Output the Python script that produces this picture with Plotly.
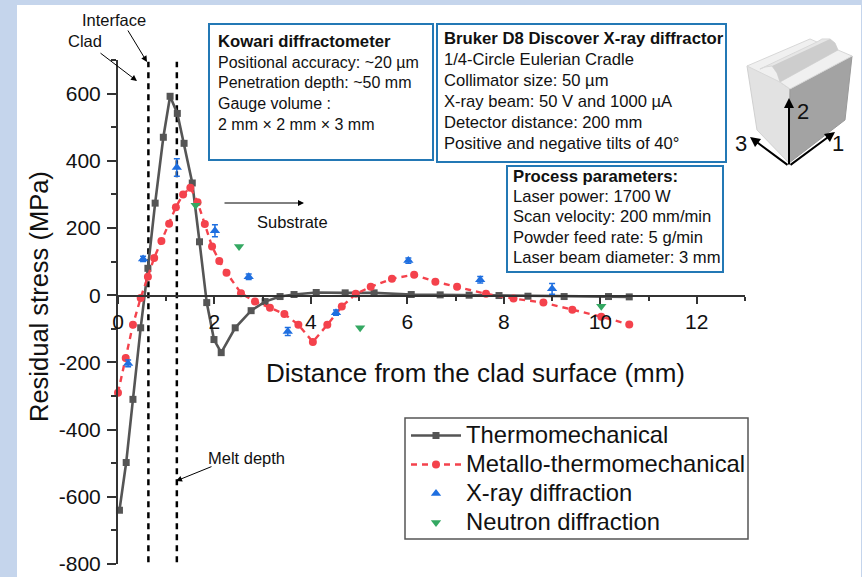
import plotly.graph_objects as go

W, H = 862, 577
L, R, T, B = 118, 745, 60, 564

thermo_x = [0.03, 0.17, 0.31, 0.47, 0.62, 0.77, 0.94, 1.08, 1.23, 1.37, 1.54, 1.69, 1.84, 1.99, 2.14, 2.43, 2.76, 3.05, 3.36, 3.65, 4.11, 4.71, 5.31, 6.08, 6.68, 7.28, 7.9, 8.5, 9.25, 10.17, 10.6]
thermo_y = [-640, -498, -310, -97, 80, 274, 470, 592, 541, 452, 334, 159, -22, -132, -171, -97, -46, -19, -4, 2, 8, 7, 7, 2, 1, 0, -1, -3, -4, -4, -5]
metallo_x = [0.0, 0.16, 0.31, 0.47, 0.62, 0.75, 0.9, 1.06, 1.2, 1.35, 1.5, 1.65, 1.8, 1.95, 2.1, 2.25, 2.55, 2.84, 3.15, 3.45, 3.74, 4.04, 4.34, 4.64, 4.93, 5.24, 5.68, 6.14, 6.58, 7.03, 7.63, 8.2, 8.82, 9.42, 10.02, 10.6]
metallo_y = [-290, -187, -88, -8, 55, 111, 161, 213, 262, 300, 320, 277, 212, 145, 102, 67, 6, -19, -37, -56, -88, -139, -88, -34, 4, 25, 49, 61, 40, 25, 4, -10, -22, -43, -64, -87]
xray_x = [0.21, 0.52, 1.22, 2.01, 2.71, 3.52, 4.52, 6.02, 7.51, 9.0]
xray_y = [-203, 108, 380, 192, 55, -108, -52, 103, 46, 19]
xray_err = [10, 8, 26, 18, 8, 12, 8, 8, 10, 16]
neutron_x = [1.61, 2.51, 5.02, 10.02]
neutron_y = [268, 145, -97, -33]
x_ticks = [0, 2, 4, 6, 8, 10, 12]
x_labels = ["0", "2", "4", "6", "8", "10", "12"]
y_ticks = [-800, -600, -400, -200, 0, 200, 400, 600]
y_labels = ["-800", "-600", "-400", "-200", "0", "200", "400", "600"]
interface_x = [0.63, 0.63]
melt_x = [1.22, 1.22]
guide_y = [-795, 695]

kowari_lines = ["Kowari diffractometer", "Positional accuracy: ~20 µm", "Penetration depth: ~50 mm", "Gauge volume :", "2 mm × 2 mm × 3 mm"]
bruker_lines = ["Bruker D8 Discover X-ray diffractor", "1/4-Circle Eulerian Cradle", "Collimator size: 50 µm", "X-ray beam: 50 V and 1000 µA", "Detector distance: 200 mm", "Positive and negative tilts of 40°"]
process_lines = ["Process parameters:", "Laser power: 1700 W", "Scan velocity: 200 mm/min", "Powder feed rate: 5 g/min", "Laser beam diameter: 3 mm"]

FONT = "Liberation Sans, Arial, sans-serif"
INK = "#333333"


def px(x):
    return (x - L) / (R - L)


def py(y):
    return (B - y) / (B - T)


def poly(points, fill, line="rgba(0,0,0,0)", width=0):
    path = "M " + " L ".join(f"{px(x):.4f},{py(y):.4f}" for x, y in points) + " Z"
    return dict(type="path", xref="paper", yref="paper", path=path, fillcolor=fill,
                line=dict(color=line, width=width), layer="above")


def legend_name(s):
    return f'<span style="font-size:23.8px">{s}</span>'


fig = go.Figure()
fig.add_trace(go.Scatter(x=interface_x, y=guide_y, mode="lines", showlegend=False, hoverinfo="skip",
                         line=dict(color="black", width=2.5, dash="6px,5px")))
fig.add_trace(go.Scatter(x=melt_x, y=guide_y, mode="lines", showlegend=False, hoverinfo="skip",
                         line=dict(color="black", width=2.5, dash="6px,5px")))
fig.add_trace(go.Scatter(x=thermo_x, y=thermo_y, mode="lines+markers", name=legend_name("Thermomechanical"),
                         line=dict(color="#555555", width=2.6),
                         marker=dict(symbol="square", size=7, color="#555555"), cliponaxis=False))
fig.add_trace(go.Scatter(x=metallo_x, y=metallo_y, mode="lines+markers", name=legend_name("Metallo-thermomechanical"),
                         line=dict(color="#F4424C", width=2.4, dash="6px,5px"),
                         marker=dict(symbol="circle", size=8, color="#F4424C"), cliponaxis=False))
fig.add_trace(go.Scatter(x=xray_x, y=xray_y, mode="markers", name=legend_name("X-ray diffraction"),
                         marker=dict(symbol="triangle-up", size=9, color="#1F6FE0"),
                         error_y=dict(type="data", array=xray_err, color="#1F6FE0", thickness=1.5, width=3)))
fig.add_trace(go.Scatter(x=neutron_x, y=neutron_y, mode="markers", name=legend_name("Neutron diffraction"),
                         marker=dict(symbol="triangle-down", size=9, color="#34A862")))

shapes = [
    dict(type="rect", xref="paper", yref="paper", x0=px(17), x1=px(861), y0=py(5), y1=py(577),
         fillcolor="white", line=dict(width=0), layer="below"),
    dict(type="rect", xref="paper", yref="paper", x0=px(405), x1=px(748), y0=py(418), y1=py(539),
         fillcolor="white", line=dict(color="#555555", width=1.5), layer="below"),
]
for x0, y0, x1, y1 in [(209, 24, 433, 160), (437, 24, 726, 162), (507, 166, 723, 272)]:
    shapes.append(dict(type="rect", xref="paper", yref="paper", x0=px(x0), x1=px(x1), y0=py(y0), y1=py(y1),
                       fillcolor="white", line=dict(color="#2378B5", width=2), layer="above"))

# block schematic
shapes += [
    poly([(747, 66), (760, 69), (765, 67), (772, 66), (777, 73), (780, 82), (790, 89), (789, 163), (757, 130)], "#E2E2E2", "#D0D0D0", 1),
    poly([(790, 89), (852, 56), (845, 120), (789, 163)], "#A3A3A3", "#999999", 1),
    poly([(747, 66), (810, 39), (817, 42), (838, 50), (852, 56), (790, 89), (780, 82)], "#F0F0F0", "#D8D8D8", 1),
    poly([(760, 69), (765, 67), (772, 66), (777, 73), (780, 82), (838, 50), (835, 43), (830, 39), (822, 39), (817, 42)], "#E6E6E6", "#D8D8D8", 1),
    poly([(772, 66), (777, 73), (780, 82), (838, 50), (835, 43), (830, 39)], "#CDCDCD"),
]


def text(x, y, s, size=16.6, anchor="left", color="#111111"):
    return dict(xref="paper", yref="paper", x=px(x), y=py(y), text=s, showarrow=False,
                xanchor=anchor, yanchor="middle", font=dict(size=size, color=color, family=FONT))


def arrow(x0, y0, x1, y1, w=1, head=2, size=1.2):
    return dict(xref="paper", yref="paper", axref="pixel", ayref="pixel",
                x=px(x1), y=py(y1), ax=x0 - x1, ay=y0 - y1, text="", showarrow=True,
                arrowhead=head, arrowwidth=w, arrowsize=size, arrowcolor="black")


ann = []
for i, s in enumerate(kowari_lines):
    ann.append(text(216, 42 + i * 20.5, f"<b>{s}</b>" if i == 0 else s, 16.7 if i == 0 else 16))
for i, s in enumerate(bruker_lines):
    ann.append(text(442, 39 + i * 20.8, f"<b>{s}</b>" if i == 0 else s, 16.7 if i == 0 else 16.6))
for i, s in enumerate(process_lines):
    ann.append(text(511, 176 + i * 20.4, f"<b>{s}</b>" if i == 0 else s, 16.7 if i == 0 else 16.6))

ann += [
    text(114, 20, "Interface", 16.5, "center"),
    text(85, 41, "Clad", 16.5, "center"),
    text(292, 222, "Substrate", 16.5, "center"),
    text(246, 458, "Melt depth", 16.5, "center"),
    arrow(127, 29, 147, 62),
    arrow(99, 52, 137, 81),
    arrow(223, 203, 304, 203),
    arrow(213, 466, 176, 481),
    arrow(789, 166, 789, 98, 2, 2, 1),
    arrow(789, 166, 835, 132, 2, 2, 1),
    arrow(789, 166, 750, 137, 2, 2, 1),
    text(803, 112, "2", 22, "center"),
    text(838, 143, "1", 22, "center"),
    text(741, 143, "3", 22, "center"),
    text(475, 373, "Distance from the clad surface (mm)", 26, "center"),
    dict(xref="paper", yref="paper", x=px(39), y=py(297), text="Residual stress (MPa)", showarrow=False,
         textangle=-90, xanchor="center", yanchor="middle", font=dict(size=25.5, color="#111111", family=FONT)),
]

fig.update_layout(
    width=W, height=H, autosize=False,
    margin=dict(l=L, r=W - R, t=T, b=H - B),
    paper_bgcolor="#C5D5EC", plot_bgcolor="rgba(0,0,0,0)",
    font=dict(family=FONT, color="#111111"),
    shapes=shapes, annotations=ann,
    legend=dict(x=px(406), y=py(416), xanchor="left", yanchor="top", bgcolor="rgba(0,0,0,0)",
                borderwidth=0, font=dict(size=20, color="#111111", family=FONT),
                itemwidth=50, tracegroupgap=0),
    xaxis=dict(range=[0, 13], anchor="free", position=py(295.5), showgrid=False, zeroline=False, automargin=False,
               showline=True, linecolor=INK, linewidth=2, ticks="outside", ticklen=7, tickwidth=2, tickcolor=INK,
               tickmode="array", tickvals=x_ticks, ticktext=x_labels, tickfont=dict(size=21, color="#111111"),
               minor=dict(tickmode="linear", tick0=0, dtick=1, ticks="outside", ticklen=4, tickwidth=2, tickcolor=INK)),
    yaxis=dict(range=[-800, 700], showgrid=False, zeroline=False, automargin=False,
               showline=True, linecolor=INK, linewidth=2, ticks="outside", ticklen=9, tickwidth=2, tickcolor=INK,
               ticklabelstandoff=2,
               tickmode="array", tickvals=y_ticks, ticktext=y_labels, tickfont=dict(size=21, color="#111111"),
               minor=dict(tickmode="linear", tick0=0, dtick=100, ticks="outside", ticklen=5, tickwidth=2, tickcolor=INK)),
)
fig.write_html("out.html", config=dict(displayModeBar=False),
               post_script="document.body.style.margin='0';document.documentElement.style.overflow='hidden';")
